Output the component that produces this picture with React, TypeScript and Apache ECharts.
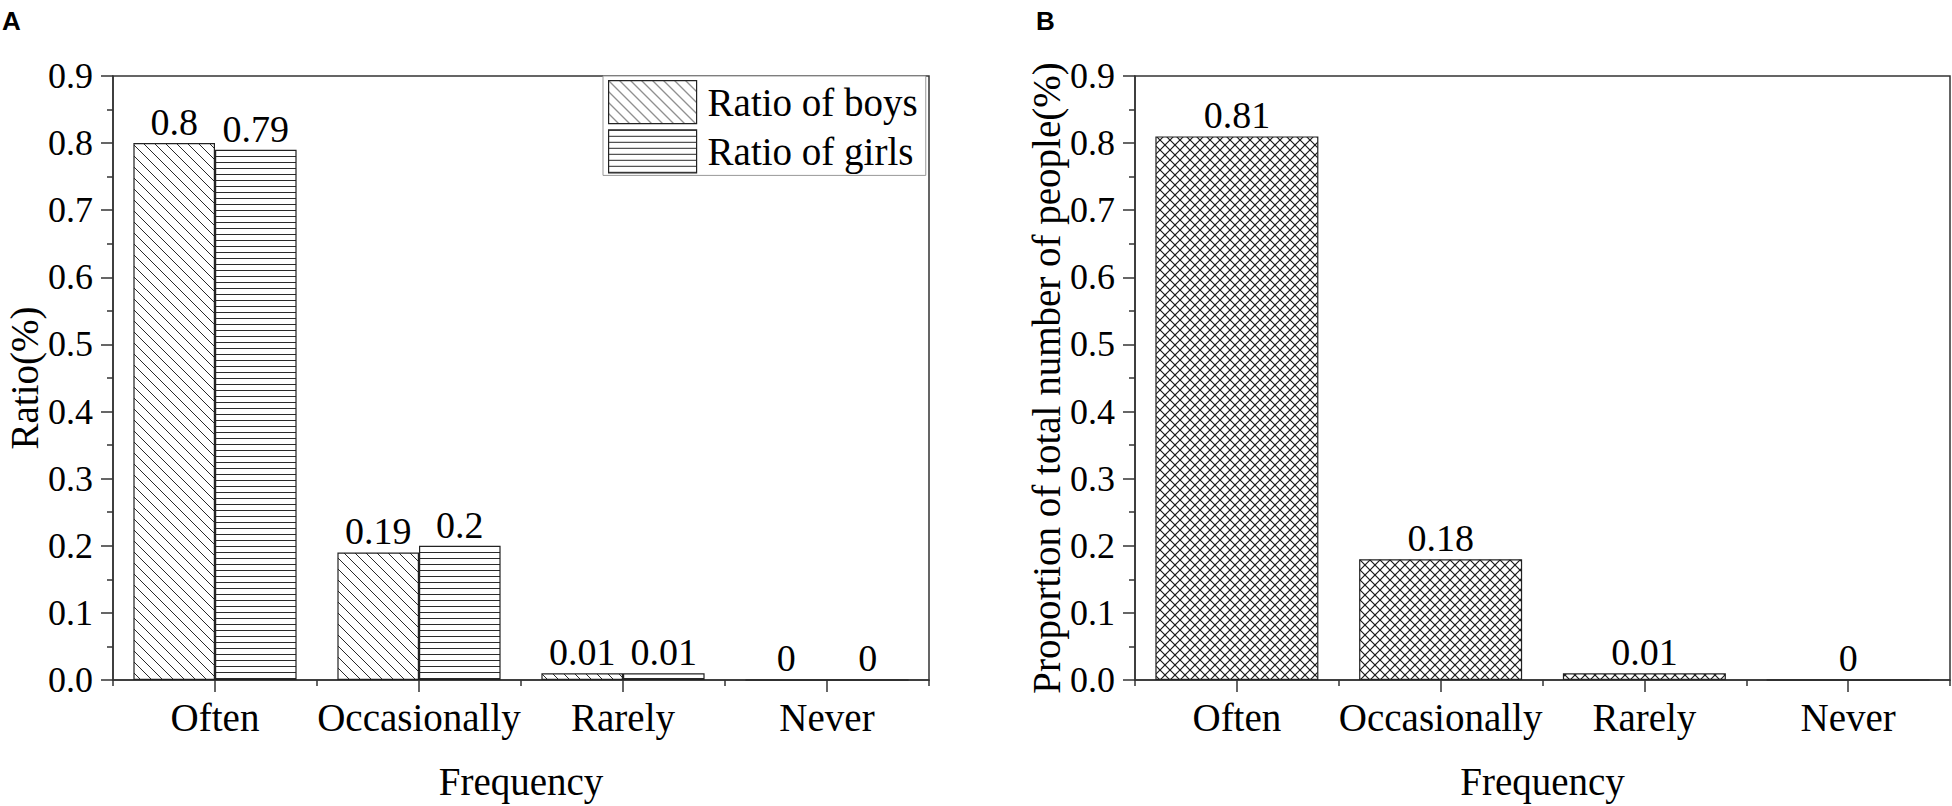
import React, { useEffect, useRef } from "react";
import * as echarts from "echarts";

const categories = ["Often", "Occasionally", "Rarely", "Never"];
const boysRatio = [0.8, 0.19, 0.01, 0];
const girlsRatio = [0.79, 0.2, 0.01, 0];
const totalProportion = [0.81, 0.18, 0.01, 0];
const yTickMax = 0.9;
const yTickStep = 0.1;

const FONT = "Liberation Serif";

function makePattern(kind: string, size: number, color: string, lw: number) {
  const c = document.createElement("canvas");
  c.width = size;
  c.height = size;
  const ctx = c.getContext("2d") as CanvasRenderingContext2D;
  ctx.fillStyle = "#ffffff";
  ctx.fillRect(0, 0, size, size);
  ctx.strokeStyle = color;
  ctx.fillStyle = color;
  ctx.lineWidth = lw;
  const diag = (flip: boolean) => {
    const seg = (x0: number, y0: number, x1: number, y1: number) => {
      ctx.beginPath();
      if (flip) {
        ctx.moveTo(size - x0, y0);
        ctx.lineTo(size - x1, y1);
      } else {
        ctx.moveTo(x0, y0);
        ctx.lineTo(x1, y1);
      }
      ctx.stroke();
    };
    seg(-1, -1, size + 1, size + 1);
    seg(-size - 1, -1, 1, size + 1);
    seg(size - 1, -1, 2 * size + 1, size + 1);
  };
  if (kind === "back") {
    diag(false);
  } else if (kind === "horiz") {
    ctx.fillRect(0, 0, size, 1);
  } else if (kind === "cross") {
    diag(false);
    diag(true);
  }
  return {
    image: c.toDataURL(),
    imageWidth: size,
    imageHeight: size,
    repeat: "repeat",
  };
}

export default function App() {
  const ref = useRef<HTMLDivElement>(null);

  useEffect(() => {
    if (!ref.current) return;
    const chart = echarts.init(ref.current, undefined, { renderer: "svg" });

    const boysPattern = makePattern("back", 11, "#2a2a2a", 1);
    const girlsPattern = makePattern("horiz", 6, "#2a2a2a", 1);
    const crossPattern = makePattern("cross", 10, "#1a1a1a", 1.2);

    const axisColor = "#333333";

    const yAxisBase = (gridIndex: number, name: string) => ({
      type: "value",
      gridIndex,
      min: 0,
      max: yTickMax,
      interval: yTickStep,
      name,
      nameLocation: "middle",
      nameGap: 67,
      nameTextStyle: { fontFamily: FONT, fontSize: 39, color: "#000" },
      axisLine: { show: true, lineStyle: { color: axisColor, width: 1.5 } },
      axisTick: { show: true, length: 12, lineStyle: { color: axisColor, width: 1.5 } },
      minorTick: { show: true, splitNumber: 2, length: 6, lineStyle: { color: axisColor, width: 1.5 } },
      splitLine: { show: false },
      axisLabel: {
        fontFamily: FONT,
        fontSize: 36,
        color: "#000",
        margin: 20,
        formatter: (v: number) => v.toFixed(1),
      },
    });

    const xAxisMain = (gridIndex: number) => ({
      type: "category",
      gridIndex,
      data: categories,
      position: "bottom",
      name: "Frequency",
      nameLocation: "middle",
      nameGap: 82,
      nameTextStyle: { fontFamily: FONT, fontSize: 39, color: "#000" },
      axisLine: { show: true, lineStyle: { color: axisColor, width: 1.5 } },
      axisTick: { show: true, alignWithLabel: true, length: 12, lineStyle: { color: axisColor, width: 1.5 } },
      axisLabel: { fontFamily: FONT, fontSize: 39, color: "#000", margin: 18, interval: 0 },
      splitLine: { show: false },
    });

    const xAxisMinor = (gridIndex: number) => ({
      type: "category",
      gridIndex,
      data: categories,
      position: "bottom",
      offset: 0,
      axisLine: { show: false },
      axisTick: { show: true, length: 6, interval: 0, lineStyle: { color: axisColor, width: 1.5 } },
      axisLabel: { show: false },
      splitLine: { show: false },
    });

    const labelStyle = {
      show: true,
      position: "top",
      distance: 2,
      fontFamily: FONT,
      fontSize: 38,
      color: "#000",
    };

    const barBorder = { borderColor: "#222222", borderWidth: 1.2 };

    chart.setOption({
      animation: false,
      backgroundColor: "#ffffff",
      textStyle: { fontFamily: FONT },
      grid: [
        { left: 113, top: 76, width: 816, height: 604, show: true, borderColor: axisColor, borderWidth: 1.5, backgroundColor: "transparent" },
        { left: 1135, top: 76, width: 815, height: 604, show: true, borderColor: axisColor, borderWidth: 1.5, backgroundColor: "transparent" },
      ],
      xAxis: [xAxisMain(0), xAxisMinor(0), xAxisMain(1), xAxisMinor(1)],
      yAxis: [yAxisBase(0, "Ratio(%)"), yAxisBase(1, "Proportion of total number of people(%)")],
      legend: {
        data: ["Ratio of boys", "Ratio of girls"],
        orient: "vertical",
        left: 603,
        top: 76,
        padding: [4, 8, 2, 5],
        itemWidth: 88,
        itemHeight: 43,
        itemGap: 5,
        icon: "rect",
        borderColor: "#999999",
        borderWidth: 1,
        backgroundColor: "#ffffff",
        textStyle: { fontFamily: FONT, fontSize: 39, color: "#000", padding: [0, 0, 0, 6] },
        itemStyle: { borderColor: "#222222", borderWidth: 1.2 },
      },
      series: [
        {
          name: "Ratio of boys",
          type: "bar",
          xAxisIndex: 0,
          yAxisIndex: 0,
          data: boysRatio,
          barGap: "0%",
          barCategoryGap: "20%",
          itemStyle: { color: boysPattern, ...barBorder },
          label: labelStyle,
        },
        {
          name: "Ratio of girls",
          type: "bar",
          xAxisIndex: 0,
          yAxisIndex: 0,
          data: girlsRatio,
          barGap: "0%",
          barCategoryGap: "20%",
          itemStyle: { color: girlsPattern, ...barBorder },
          label: labelStyle,
        },
        {
          name: "Total",
          type: "bar",
          xAxisIndex: 2,
          yAxisIndex: 1,
          data: totalProportion,
          barCategoryGap: "20%",
          itemStyle: { color: crossPattern, ...barBorder },
          label: labelStyle,
        },
      ],
      graphic: [
        {
          type: "text",
          left: 2,
          top: 8,
          style: { text: "A", fontSize: 26, fontWeight: "bold", fontFamily: "Liberation Sans", fill: "#000" },
        },
        {
          type: "text",
          left: 1036,
          top: 8,
          style: { text: "B", fontSize: 26, fontWeight: "bold", fontFamily: "Liberation Sans", fill: "#000" },
        },
      ],
    });

    return () => {
      chart.dispose();
    };
  }, []);

  return (
    <div
      ref={ref}
      style={{ position: "absolute", left: 0, top: 0, width: 1952, height: 806, background: "#fff" }}
    />
  );
}
